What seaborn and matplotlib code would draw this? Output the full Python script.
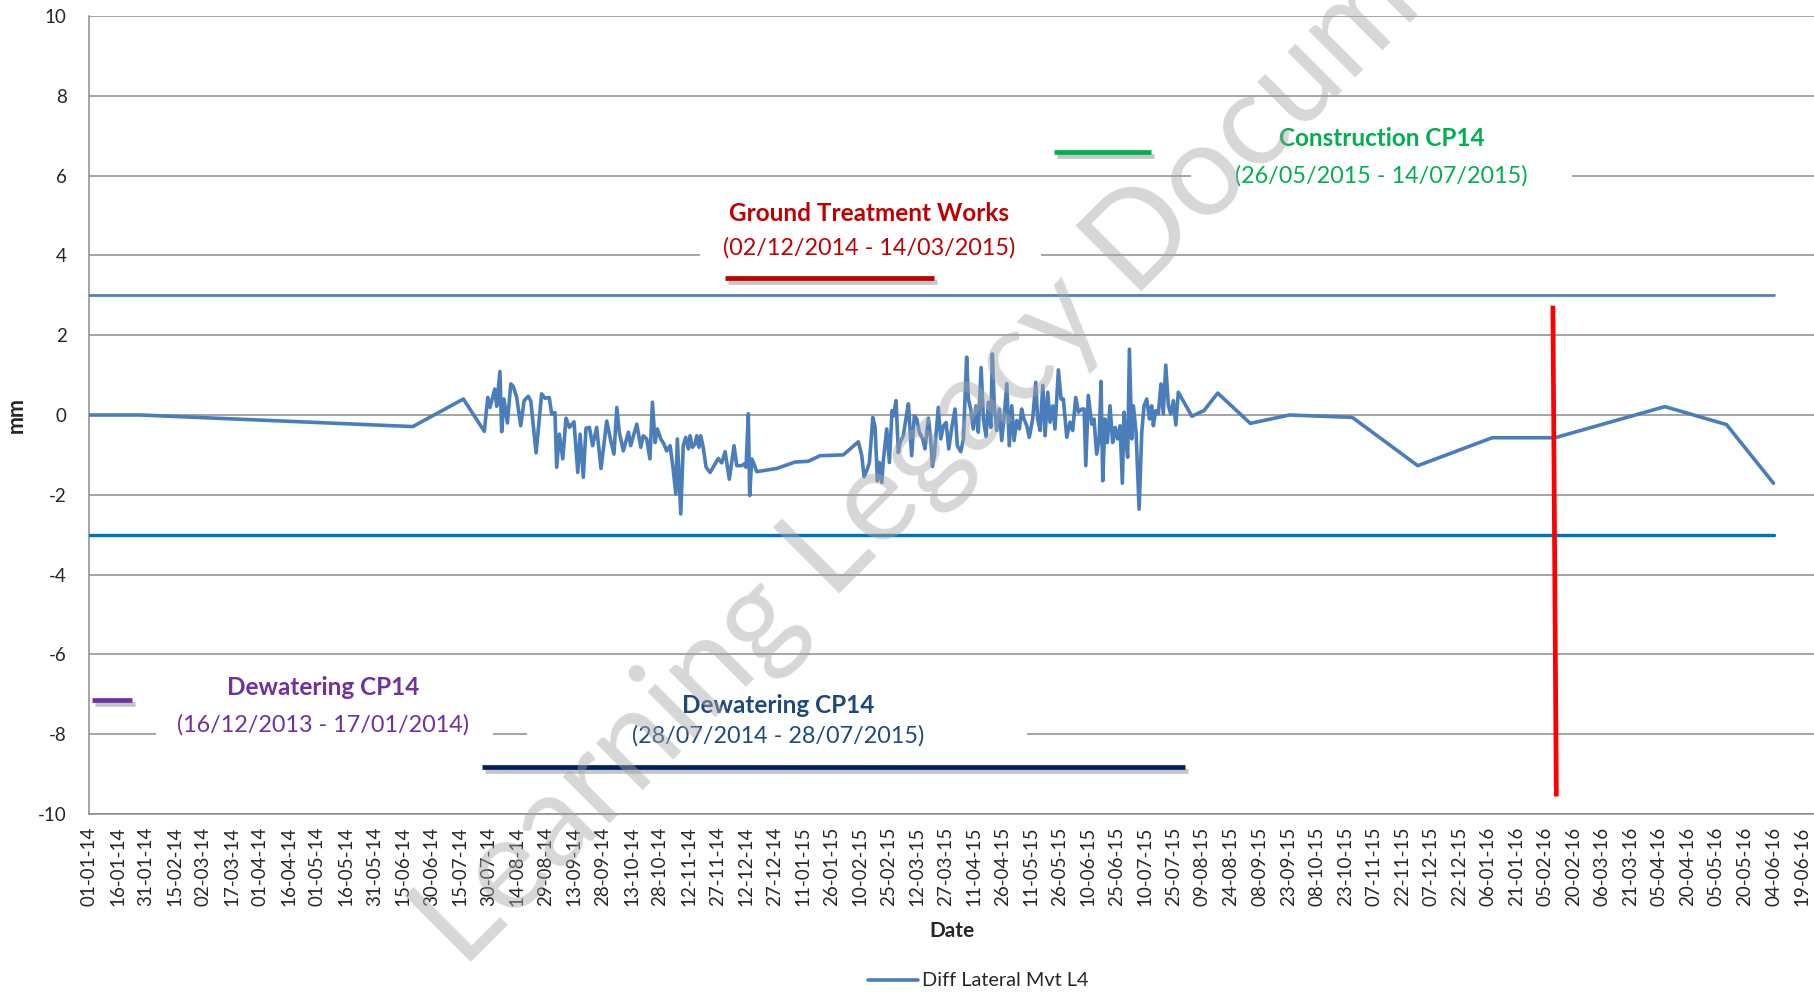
import pandas as pd
import matplotlib
matplotlib.use('Agg')
import matplotlib.pyplot as plt
import matplotlib.dates as mdates
import matplotlib.patheffects as pe
from matplotlib.patches import Rectangle
import seaborn as sns

start = pd.Timestamp('2014-01-01')

# readings: days after 01-01-14 and differential lateral movement (mm)
day_offsets = [
    0, 27, 170.1, 196.7, 207.7, 209.5, 210.7, 213.2, 214.2, 215.9, 216.8, 218.0,
    219.8, 221.6, 222.9, 224.7, 226.8, 228.6, 230.8, 232.1, 234.9, 237.8, 239.6,
    241.8, 243.1, 244.8, 245.7, 247.1, 248.9, 250.6, 252.4, 254.8, 256.8, 258.0,
    259.7, 261.1, 262.9, 264.6, 266.7, 269.0, 272.0, 274.1, 275.8, 277.3, 278.6,
    280.7, 283.4, 284.6, 286.0, 287.8, 289.9, 291.2, 293.0, 294.7, 296.0, 297.4,
    298.6, 300.4, 302.1, 303.5, 305.3, 306.7, 308.3, 309.1, 310.9, 312.2, 313.5,
    314.9, 315.8, 317.0, 318.4, 319.3, 320.5, 321.4, 322.7, 324.2, 326.3, 328.9,
    330.6, 332.4, 334.2, 336.4, 338.9, 340.3, 342.9, 344.1, 345.2, 346.4, 347.1,
    348.2, 349.4, 350.8, 361.3, 370.9, 377.9, 384.1, 396.3, 404.2, 406.0, 407.2,
    408.6, 410.0, 411.8, 413.0, 414.2, 415.2, 416.5, 417.3, 419.1, 420.5, 421.9,
    422.6, 424.0, 425.2, 426.1, 427.8, 429.3, 430.5, 432.2, 433.6, 434.9, 436.2,
    438.0, 439.2, 441.0, 442.2, 443.1, 444.1, 446.2, 447.5, 448.9, 450.3, 451.7,
    453.3, 455.0, 456.2, 458.0, 459.4, 461.1, 462.0, 463.2, 464.6, 466.0, 467.2,
    468.7, 469.9, 471.3, 472.5, 473.8, 474.6, 475.6, 476.9, 478.3, 479.5, 480.7,
    482.2, 483.5, 484.8, 486.0, 487.4, 488.8, 490.0, 491.2, 492.7, 494.0, 495.8,
    497.4, 498.4, 499.7, 501.1, 502.3, 503.7, 504.9, 506.3, 507.5, 509.3, 510.7,
    511.9, 513.7, 515.4, 516.8, 518.4, 519.8, 521.6, 522.8, 523.7, 525.0, 526.8,
    528.0, 529.4, 530.7, 531.7, 532.6, 533.8, 535.0, 536.4, 537.8, 539.1, 540.3,
    541.7, 542.9, 543.8, 544.8, 545.7, 546.6, 547.8, 548.7, 550.1, 551.7, 553.1,
    554.3, 555.7, 557.1, 558.3, 559.2, 560.4, 561.8, 563.2, 564.4, 565.7, 567.1,
    568.3, 569.7, 571.0, 572.3, 579.4, 585.8, 593.0, 610.1, 630.7, 663.7, 698.1,
    737.2, 770.2, 827.9, 860.3, 885,
]
lateral_mvt = [
    0, 0, -0.29, 0.40, -0.41, 0.44, 0.19, 0.65, 0.22, 1.09, -0.42, 0.40,
    -0.20, 0.78, 0.72, 0.44, -0.27, 0.36, 0.47, 0.35, -0.95, 0.53, 0.42,
    0.44, 0.02, 0.06, -1.31, -0.48, -1.10, -0.08, -0.31, -0.17, -1.44, -0.48,
    -1.56, -0.33, -0.31, -0.77, -0.31, -1.34, -0.15, -0.64, -0.98, 0.19, -0.43,
    -0.90, -0.43, -0.77, -0.52, -0.23, -0.81, -0.52, -0.60, -1.10, 0.32, -0.69,
    -0.35, -0.60, -0.73, -0.90, -0.77, -1.27, -1.98, -0.60, -2.48, -0.77, -0.56,
    -0.85, -0.52, -0.81, -0.73, -0.52, -0.81, -0.52, -0.81, -1.31, -1.44, -1.23,
    -1.09, -1.20, -0.92, -1.61, -0.77, -1.27, -1.27, -1.23, -1.31, 0.03, -2.02,
    -1.10, -1.23, -1.42, -1.34, -1.18, -1.16, -1.02, -1.00, -0.67, -1.02, -1.55,
    -1.40, -1.19, -0.06, -0.31, -1.65, -1.19, -1.69, -1.15, -0.35, -1.19, 0.11,
    -0.02, 0.36, -0.94, -0.69, -0.52, -0.06, 0.28, -1.02, -0.02, -0.10, -0.43,
    -0.60, -0.85, -0.08, -0.60, -1.29, -1.02, 0.19, -0.60, -0.27, -0.19, -0.85,
    -0.31, 0.15, -0.77, -0.92, -0.60, 1.45, 0.40, 0.15, -0.35, 0.23, -0.43,
    1.19, -0.10, -0.54, 0.32, -0.31, 1.53, 0.23, -0.39, 0.15, -0.64, -0.10,
    0.78, -0.77, 0.23, -0.64, -0.14, -0.35, 0.15, -0.10, -0.27, -0.56, -0.10,
    0.82, -0.10, -0.39, 0.74, -0.52, 0.57, -0.18, 0.23, -0.35, 1.13, 0.40,
    0.40, -0.56, -0.18, -0.39, 0.44, 0.07, 0.15, 0.15, -1.27, 0.49, -0.23,
    -0.10, -0.98, -0.60, 0.84, -1.65, -0.10, -0.69, 0.23, -0.69, -0.31, -0.60,
    -0.27, -1.71, 0.07, -0.69, -1.06, 1.65, -0.60, 0.23, -0.43, -2.36, -0.43,
    0.23, 0.40, -0.10, 0.23, -0.27, 0.11, 0.03, 0.78, 0.03, 1.25, 0.23,
    0.03, 0.36, -0.25, 0.57, -0.03, 0.11, 0.55, -0.21, 0.00, -0.06, -1.27,
    -0.57, -0.57, 0.21, -0.24, -1.71,
]

trigger_levels = [3, -3]
trigger_colors = ['#4F81BD', '#0070C0']
trigger_end_day = 885

# activity periods: title, dates, colour of title, colour of bar,
# bar start / end day, bar level, text centre day, title level, date level, box
periods = [
    ('Dewatering CP14', '(16/12/2013 - 17/01/2014)', '#7030A0', '#7030A0',
     1.8, 22.5, -7.15, 123, -6.84, -7.77, (35, 212, -8.35, -6.45)),
    ('Dewatering CP14', '(28/07/2014 - 28/07/2015)', '#1F497D', '#002060',
     206.7, 575.8, -8.81, 362, -7.27, -8.05, (230, 493, -8.4, -6.8)),
    ('Ground Treatment Works', '(02/12/2014 - 14/03/2015)', '#C00000', '#C00000',
     334.4, 443.9, 3.44, 410, 5.04, 4.19, (321, 500, 3.75, 5.5)),
    ('Construction CP14', '(26/05/2015 - 14/07/2015)', '#00B050', '#00B050',
     507, 558, 6.6, 679, 6.92, 5.99, (579, 779, 5.7, 7.3)),
]

marker_days = [769.1, 770.9]
marker_levels = [2.74, -9.56]

def day(d):
    return start + pd.Timedelta(days=d)

df = pd.DataFrame({
    'Date': [day(d) for d in day_offsets],
    'mm': lateral_mvt,
})

sns.set_style('white')
plt.rcParams['font.family'] = ['Lato', 'DejaVu Sans']
plt.rcParams['axes.unicode_minus'] = False

fig = plt.figure(figsize=(18.15, 9.92), dpi=100)
ax = fig.add_axes([89 / 1815, 1 - 814 / 992, 1 - 89 / 1815, (814 - 16) / 992])

sns.lineplot(data=df, x='Date', y='mm', ax=ax, color='#4A7EBB', lw=2.6,
             label='Diff Lateral Mvt L4', zorder=4, legend=False)

for lvl, c in zip(trigger_levels, trigger_colors):
    ax.plot([day(0), day(trigger_end_day)], [lvl, lvl], color=c,
            lw=2.0 if lvl > 0 else 2.4, zorder=3)

shadow = [pe.SimpleLineShadow(offset=(2, -3), shadow_color='#7F7F7F', alpha=0.45),
          pe.Normal()]

for title, dates, tc, bc, b0, b1, blev, tx, ty, dy, box in periods:
    x0 = mdates.date2num(day(box[0]))
    x1 = mdates.date2num(day(box[1]))
    ax.add_patch(Rectangle((x0, box[2]), x1 - x0, box[3] - box[2],
                           facecolor='white', edgecolor='none', zorder=2))
    ax.plot([day(b0), day(b1)], [blev, blev], color=bc, lw=3.4,
            solid_capstyle='butt', path_effects=shadow, zorder=5)
    ax.text(day(tx), ty, title, color=tc, fontsize=17.5, fontweight='bold',
            ha='center', va='center', zorder=6)
    ax.text(day(tx), dy, dates, color=tc, fontsize=16.8,
            ha='center', va='center', zorder=6)

ax.plot([day(d) for d in marker_days], marker_levels, color='#FF0000', lw=3.4,
        solid_capstyle='butt', zorder=6)

ax.set_ylim(-10, 10)
ax.set_yticks(range(-10, 11, 2))
ax.set_xlim(day(0), day(906.8))
ticks = pd.date_range('2014-01-01', '2016-06-19', freq='15D')
ax.set_xticks(ticks)
ax.set_xticklabels([t.strftime('%d-%m-%y') for t in ticks], rotation=90)
ax.tick_params(axis='x', length=0, pad=9, labelsize=13.5)
ax.tick_params(axis='y', length=0, pad=16, labelsize=13.5)

ax.set_axisbelow(True)
ax.grid(axis='y', color='#8C8C8C', lw=1.1)
ax.grid(axis='x', visible=False)
for s in ['top', 'right']:
    ax.spines[s].set_visible(False)
for s in ['left', 'bottom']:
    ax.spines[s].set_color('#8C8C8C')
    ax.spines[s].set_linewidth(1.1)

ax.set_xlabel('Date', fontsize=15, fontweight='bold', labelpad=11)
ax.set_ylabel('mm', fontsize=15.5, fontweight='bold', labelpad=8)

fig.legend(handles=[plt.Line2D([], [], color='#4A7EBB', lw=2.6)],
           labels=['Diff Lateral Mvt L4'], loc='center',
           bbox_to_anchor=(978 / 1815, 1 - 981 / 992), frameon=False,
           fontsize=14.3, handlelength=2.5, handletextpad=0.2)

fig.text(985 / 1815, 1 - 398 / 992, 'Learning Legacy Document', rotation=45,
         ha='center', va='center', fontsize=93, color='#A6A6A6', alpha=0.45,
         zorder=10)

fig.savefig('out.png', dpi=100)
